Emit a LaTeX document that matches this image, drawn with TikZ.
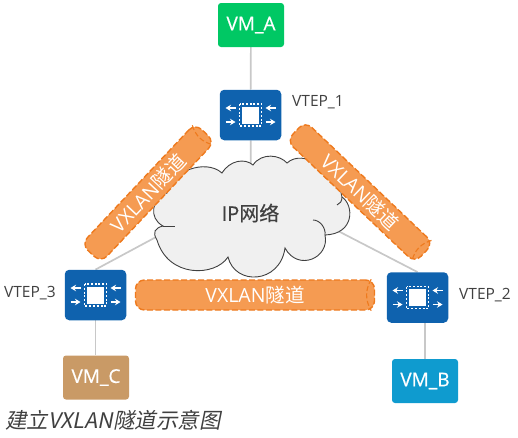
\documentclass[tikz,border=0pt]{standalone}
\usepackage{fontspec}
\setmainfont{Open Sans}
\newfontfamily\semi[FakeBold=0.5]{Open Sans}
\newfontfamily\cjk{Noto Sans CJK SC}
\newfontfamily\cjksemi[FakeBold=0.3]{Noto Sans CJK SC}
\newfontfamily\cjkit[FakeSlant=0.2]{Noto Sans CJK SC}
\usetikzlibrary{calc,backgrounds,arrows.meta}
\definecolor{vtepblue}{HTML}{0F62AE}
\definecolor{tunnelfill}{HTML}{F59B52}
\definecolor{tunneldash}{HTML}{EE7A1E}
\definecolor{linkgray}{HTML}{C8C8C8}
\definecolor{cloudfill}{HTML}{F0F0F0}
\definecolor{textgray}{HTML}{404040}
\tikzset{
  vmbox/.style={rounded corners=3pt,minimum width=66pt,minimum height=44pt,inner sep=0pt,text=white,font=\semi\fontsize{19}{19}\selectfont},
  vtepbox/.style={fill=vtepblue,rounded corners=4.5pt,minimum width=61.5pt,minimum height=50.5pt,inner sep=0pt},
  chip/.style={fill=white,minimum width=17pt,minimum height=17pt,inner sep=0pt},
  chipedge/.style={white,line width=1.2pt,dash pattern=on 2pt off 1.8pt},
  porta/.style={white,line width=1.4pt,-{Stealth[length=5.5pt,width=6.5pt]}},
  tunnel/.style={fill=tunnelfill,draw=tunneldash,line width=1.4pt,dash pattern=on 6pt off 2.5pt,rounded corners=9pt,inner sep=0pt,text=white,font=\fontsize{19.5}{19.5}\selectfont},
  tunnelcap/.style={draw=tunneldash,line width=1.1pt,dash pattern=on 5pt off 2.5pt},
  link/.style={linkgray,line width=1.7pt},
  tag/.style={text=textgray,inner sep=0pt,font=\fontsize{15.5}{15.5}\selectfont},
  cloudedge/.style={draw=black!75,line width=0.9pt}
}
\begin{document}
\begin{tikzpicture}[x=1pt,y=-1pt]
  \useasboundingbox (0,0) rectangle (518,437);
  % hosts
  \node[vmbox,fill={rgb,255:red,0;green,200;blue,100}] (vm_a) at (251,25) {VM\_A};
  \node[vmbox,fill={rgb,255:red,201;green,154;blue,102}] (vm_c) at (96,377.5) {VM\_C};
  \node[vmbox,fill={rgb,255:red,15;green,155;blue,207}] (vm_b) at (425,381) {VM\_B};
  % vteps
  \node[vtepbox] (vtep_1) at (250.5,115) {};
  \node[vtepbox] (vtep_3) at (95.5,295) {};
  \node[vtepbox] (vtep_2) at (417.5,297.5) {};
  \node[tag,anchor=west] (label_1) at (292,102) {VTEP\_1};
  \node[tag,anchor=west] (label_3) at (4,293) {VTEP\_3};
  \node[tag,anchor=west] (label_2) at (459,295) {VTEP\_2};
  \foreach \v in {vtep_1,vtep_2,vtep_3}{
    \node[chip] (\v_chip) at (\v) {};
    \draw[chipedge] ($(\v)+(-11,-11)$) rectangle ($(\v)+(11,11)$);
    \draw[porta] ($(\v)+(-15,-7)$) -- ($(\v)+(-25,-7)$);
    \draw[porta] ($(\v)+(25,-7)$) -- ($(\v)+(15,-7)$);
    \draw[porta] ($(\v)+(-25,7)$) -- ($(\v)+(-15,7)$);
    \draw[porta] ($(\v)+(15,7)$) -- ($(\v)+(25,7)$);
  }
  % cloud
  \coordinate (hub) at (251,186);
  \draw[fill=cloudfill,cloudedge]
    (167,193) .. controls (170,172) and (205,158) .. (222,173)
    .. controls (230,160) and (245,158) .. (253,165)
    .. controls (262,152) and (280,155) .. (287,163)
    .. controls (303,148) and (338,170) .. (342,197)
    .. controls (354,205) and (355,234) .. (325,235)
    .. controls (330,258) and (298,272) .. (285,248)
    .. controls (280,284) and (235,286) .. (228,257)
    .. controls (215,277) and (168,278) .. (157,240)
    .. controls (152,232) and (155,228) .. (163,226)
    .. controls (148,218) and (152,198) .. (167,193) -- cycle;
  \draw[cloudedge] (163,226) -- (175,226);
  \draw[cloudedge] (313,220) .. controls (320,220) and (326,228) .. (325,235);
  \draw[cloudedge] (342,197) .. controls (342,201) and (340,204) .. (337,205);
  \node[text=textgray,inner sep=0pt,font=\semi\fontsize{20}{20}\selectfont] (ip) at (250.5,213) {IP{\cjksemi 网络}};
  % links
  \begin{scope}[on background layer]
    \draw[link] (vm_a) -- (vtep_1);
    \draw[link] (vtep_1) -- (hub);
    \draw[link] (vtep_3.north) -- (hub);
    \draw[link] (vtep_2.north) -- (hub);
    \draw[link] (vtep_3) -- (vtep_3 |- vm_c.north);
    \draw[link] (vm_b) -- (vm_b |- vtep_2.south);
  \end{scope}
  % tunnels
  \node[tunnel,minimum width=166pt,minimum height=27pt,rotate=46.7] (tunnel_1) at (148,193) {VXLAN{\cjk 隧道}};
  \node[tunnel,minimum width=177pt,minimum height=27pt,rotate=-43.6] (tunnel_2) at (360,192) {VXLAN{\cjk 隧道}};
  \node[tunnel,minimum width=239pt,minimum height=30pt] (tunnel_3) at (255,295) {VXLAN{\cjk 隧道}};
  \foreach \t in {tunnel_1,tunnel_2,tunnel_3}
    \draw[tunnelcap] ($(\t.north east)!4pt!(\t.north west)$) to[bend right=30] ($(\t.south east)!4pt!(\t.south west)$);
  % caption
  \node[anchor=west,inner sep=0pt,text=textgray,font=\fontsize{21.5}{21.5}\selectfont] (caption) at (5,420) {\cjkit 建立VXLAN隧道示意图};
\end{tikzpicture}
\end{document}
